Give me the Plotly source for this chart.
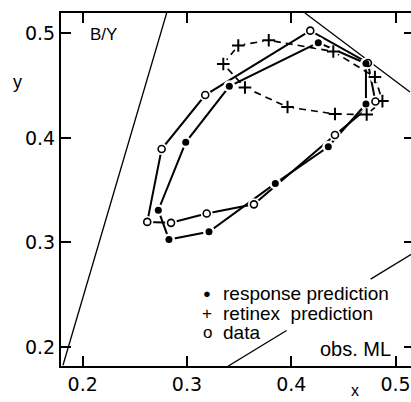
import plotly.graph_objects as go

# ---- data ----
# response prediction (filled dots), closed loop
resp_x = [0.2827, 0.3211, 0.3847, 0.4355, 0.4716, 0.4716, 0.4259, 0.3406, 0.2988, 0.2725]
resp_y = [0.3029, 0.3102, 0.3565, 0.3916, 0.4325, 0.4713, 0.4912, 0.4494, 0.3958, 0.3309]

# retinex prediction (+), closed loop, dashed
ret_x = [0.3348, 0.3492, 0.3784, 0.4403, 0.4802, 0.4874, 0.4723, 0.4419, 0.3964, 0.3556]
ret_y = [0.4708, 0.4885, 0.4935, 0.4828, 0.4583, 0.4353, 0.4224, 0.4229, 0.4296, 0.4483]

# data (open circles), closed loop
dat_x = [0.2619, 0.2847, 0.3189, 0.3642, 0.4419, 0.4807, 0.4735, 0.4182, 0.3175, 0.2757]
dat_y = [0.3197, 0.3188, 0.3278, 0.3365, 0.4028, 0.4349, 0.4718, 0.5027, 0.4411, 0.3894]

# straight reference lines (endpoints)
lineA_x = [0.1811, 0.2805]
lineA_y = [0.1825, 0.5196]
lineB_x = [0.4131, 0.5138]
lineB_y = [0.5196, 0.4440]
lineC_x = [0.3396, 0.3955, None, 0.4761, 0.5160]
lineC_y = [0.1818, 0.2158, None, 0.2649, 0.2892]

tick_vals = [0.2, 0.3, 0.4, 0.5]
tick_text = ["0.2", "0.3", "0.4", "0.5"]

legend_labels = ["response prediction", "retinex  prediction", "data"]
legend_symbols = ["\u25cf", "+", "o"]

FONT = "Liberation Sans, Arial, sans-serif"
TICKFONT = "DejaVu Sans, sans-serif"

def closed(v):
    return v + v[:1]

fig = go.Figure()

# reference lines
for lx, ly in [(lineA_x, lineA_y), (lineB_x, lineB_y), (lineC_x, lineC_y)]:
    fig.add_trace(go.Scatter(x=lx, y=ly, mode="lines",
                             line=dict(color="black", width=1.3),
                             showlegend=False, hoverinfo="skip"))

# curves
fig.add_trace(go.Scatter(x=closed(ret_x), y=closed(ret_y), mode="lines",
                         line=dict(color="black", width=1.7, dash="7px,5px"),
                         showlegend=False))
fig.add_trace(go.Scatter(x=closed(resp_x), y=closed(resp_y), mode="lines",
                         line=dict(color="black", width=2), showlegend=False))
fig.add_trace(go.Scatter(x=closed(dat_x), y=closed(dat_y), mode="lines",
                         line=dict(color="black", width=2), showlegend=False))

# white halos so lines stop short of the symbols
for hx, hy, s in [(resp_x, resp_y, 12), (dat_x, dat_y, 12), (ret_x, ret_y, 11)]:
    fig.add_trace(go.Scatter(x=hx, y=hy, mode="markers",
                             marker=dict(color="white", size=s, line=dict(width=0)),
                             showlegend=False, hoverinfo="skip"))

# markers
fig.add_trace(go.Scatter(x=ret_x, y=ret_y, mode="markers", name="retinex prediction",
                         marker=dict(symbol="cross-thin", size=9, color="black",
                                     line=dict(color="black", width=2)),
                         showlegend=False))
fig.add_trace(go.Scatter(x=dat_x, y=dat_y, mode="markers", name="data",
                         marker=dict(symbol="circle", size=7, color="white",
                                     line=dict(color="black", width=1.6)),
                         showlegend=False))
fig.add_trace(go.Scatter(x=resp_x, y=resp_y, mode="markers", name="response prediction",
                         marker=dict(symbol="circle", size=7, color="black",
                                     line=dict(width=0)),
                         showlegend=False))

axis_common = dict(showgrid=False, zeroline=False, showline=True,
                   linecolor="black", linewidth=2, ticks="inside", ticklen=10,
                   tickwidth=2, tickcolor="black", tickvals=tick_vals,
                   ticktext=tick_text,
                   tickfont=dict(family=TICKFONT, size=19, color="black"))

xr = [0.1792, 0.5148]
yr = [0.1818, 0.5196]

fig.update_layout(
    width=411, height=402,
    margin=dict(l=61, r=0, t=13, b=36),
    paper_bgcolor="white", plot_bgcolor="white",
    showlegend=False,
    xaxis=dict(axis_common, range=xr),
    yaxis=dict(axis_common, range=yr),
    xaxis2=dict(axis_common, range=xr, overlaying="x", side="top",
                showticklabels=False, matches="x"),
    yaxis2=dict(axis_common, range=yr, overlaying="y", side="right",
                showticklabels=False, showline=False, ticklen=7, matches="y"),
)
# dummy trace so the mirrored axes render
fig.add_trace(go.Scatter(x=[None], y=[None], xaxis="x2", yaxis="y2",
                         showlegend=False, hoverinfo="skip"))

def px2x(p):
    return xr[0] + (p - 61) * (xr[1] - xr[0]) / 350.0
def px2y(p):
    return yr[1] - (p - 13) * (yr[1] - yr[0]) / (402 - 13 - 36)

annotations = [
    dict(text="B/Y", x=px2x(88), y=px2y(34), xanchor="left", yanchor="middle",
         font=dict(family=FONT, size=17, color="black")),
    dict(text="obs. ML", x=px2x(355.5), y=px2y(349), xanchor="center", yanchor="middle",
         font=dict(family=FONT, size=20, color="black")),
]
rows = [293.5, 313.5, 332]
for lab, sym, r in zip(legend_labels, legend_symbols, rows):
    annotations.append(dict(text=lab, x=px2x(221), y=px2y(r), xanchor="left",
                            yanchor="middle",
                            font=dict(family=FONT, size=19, color="black")))
    annotations.append(dict(text=sym, x=px2x(207), y=px2y(r), xanchor="center",
                            yanchor="middle",
                            font=dict(family=FONT, size=13 if sym == "\u25cf" else 17,
                                      color="black")))
for a in annotations:
    a.update(xref="x", yref="y", showarrow=False)

annotations.append(dict(text="y", xref="paper", yref="paper",
                        x=(17 - 61) / 350.0, y=1 - (82 - 13) / 353.0,
                        xanchor="center", yanchor="middle", showarrow=False,
                        font=dict(family=FONT, size=18, color="black")))
annotations.append(dict(text="x", xref="paper", yref="paper",
                        x=(355 - 61) / 350.0, y=1 - (401 - 13) / 353.0,
                        xanchor="center", yanchor="bottom", showarrow=False,
                        font=dict(family=FONT, size=16, color="black")))
fig.update_layout(annotations=annotations)

fig.write_html("out.html")
